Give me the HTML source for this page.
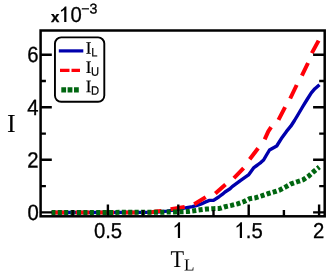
<!DOCTYPE html>
<html>
<head>
<meta charset="utf-8">
<style>
html,body{margin:0;padding:0;background:#fff;}
body{width:332px;height:274px;overflow:hidden;}
svg{display:block;will-change:transform;}
text{text-rendering:geometricPrecision;}
.sans{font-family:"Liberation Sans",sans-serif;}
.serif{font-family:"Liberation Serif",serif;}
</style>
</head>
<body>
<svg width="332" height="274" viewBox="0 0 332 274">
<rect x="0" y="0" width="332" height="274" fill="#fff"/>

<!-- curves -->
<g fill="none" stroke-linejoin="round">
<polyline stroke="#0000ad" stroke-width="3.4" points="51.6,212.5 150,212.4 160,211.8 167.2,211.1 176,209.6 185.5,207.9 192.5,206.6 197.2,205.3 200.7,204.2 205.7,201.9 209.5,200.4 213.5,200.4 218.7,197 222.5,194.2 225,192 230,188.8 232.2,186.6 240.7,180.3 248.5,174.9 253.9,167.6 257.5,165 261,162.3 263.6,160 266.2,155.5 269.5,150 276.7,146 282.1,137.4 286.5,131.4 290.8,126.2 294.5,120.5 298.1,114.5 302.5,107 306.8,100 311.3,92.9 314.9,88.7 319.5,84.7"/>
<path stroke="#ff0008" stroke-width="4" d="M51.6,212.5 L65.4,212.5 M75.6,212.5 L89.4,212.5 M99.6,212.5 L114.1,212.5 M123.6,212.5 L137.4,212.5 M147.6,212.6 L152,212.3 L155,211.6 L158,211.2 L161.4,211 M170.6,209.3 L184.7,206.9 M194.2,204.3 L205.7,197.1 M215.3,193.5 L225.5,184.4 M233.9,178.1 L243.6,168.2 M249.7,159.3 L258.1,148.2 M264.7,139.3 L268.3,131.4 L271.1,127.2 M278.5,119.9 L285.1,107.2 M290.2,98.5 L296.7,85 M301.9,75.7 L308,63 M311.8,53.1 L318.6,40.6"/>
<polyline stroke="#006610" stroke-width="5" stroke-dasharray="4.1,2.305" stroke-dashoffset="0.25" points="51.6,212.5 160,212.3 168,212 175,211.9 181.7,211.7 187.7,211.5 194,210.7 200.4,209.85 206.7,209.05 213.3,208.65 219.7,208.45 225.1,206.75 231.4,205.35 237.5,203.85 243.5,201.75 249.5,198.75 255.8,197.7 261.6,195.85 267.7,193.75 274,191.95 280.1,189.85 285.7,186.85 291.15,183.8 297.2,181.75 303.3,179.65 308.7,176.05 313.5,171.75 318.3,167.85 319.3,167.05"/>
</g>

<!-- axes box -->
<g stroke="#000" stroke-width="2.4" fill="none">
<rect x="40.6" y="30.5" width="284.1" height="185.8" stroke-width="2.5"/>
<path d="M107.9,216.3V204.4 M178.3,216.3V204.4 M248.7,216.3V204.4 M319.1,216.3V204.4 "/>
<path d="M72.7,216.3V210.1 M143.1,216.3V210.1 M213.5,216.3V210.1 M283.9,216.3V210.1 "/>
<path d="M40.6,212.4H51.8 M40.6,159.8H51.8 M40.6,107.3H51.8 M40.6,54.7H51.8 "/>
<path d="M40.6,186.1H45.9 M40.6,133.6H45.9 M40.6,81.0H45.9 "/>
<path d="M324.7,212.4H313.1 M324.7,159.8H313.1 M324.7,107.3H313.1 M324.7,54.7H313.1 "/>
<path d="M324.7,186.1H319.2 M324.7,133.6H319.2 M324.7,81.0H319.2 "/>
</g>

<!-- legend -->
<rect x="54.950" y="37.400" width="49.350" height="64.400" rx="6.2" ry="6.2" fill="#fff" stroke="#000" stroke-width="1.900"/>
<path d="M58.800,50.900H83.300" stroke="#0000ad" stroke-width="3.200" fill="none"/>
<path d="M60,70.400H69.500 M71.500,70.400H80" stroke="#ff0008" stroke-width="3.200" fill="none"/>
<path d="M61.300,89.800H66.100 M67.600,89.800H72.400 M74,89.800H78.800" stroke="#006610" stroke-width="5.200" fill="none"/>
<g fill="#000" stroke="#000" stroke-width="0.2">
<text class="serif" transform="translate(85.8,53.85) scale(1,1.045) rotate(0.05)" font-size="17">I</text>
<text class="sans" transform="translate(91.2,56.5) scale(1,1.1) rotate(0.05)" font-size="11.2">L</text>
<text class="serif" transform="translate(85.8,73.1) scale(1,1.045) rotate(0.05)" font-size="17">I</text>
<text class="sans" transform="translate(91.1,75.8) scale(1,1.1) rotate(0.05)" font-size="11.2">U</text>
<text class="serif" transform="translate(85.8,92.15) scale(1,1.045) rotate(0.05)" font-size="17">I</text>
<text class="sans" transform="translate(91.1,94.8) scale(1,1.1) rotate(0.05)" font-size="11.2">D</text>
</g>

<!-- tick labels -->
<g class="sans" fill="#000" stroke="#000" stroke-width="0.3">
<text transform="translate(38.6,62) scale(1,1.085) rotate(0.05)" text-anchor="end" font-size="20.3">6</text>
<text transform="translate(38.6,115.05) scale(1,1.085) rotate(0.05)" text-anchor="end" font-size="20.3">4</text>
<text transform="translate(38.6,167.6) scale(1,1.085) rotate(0.05)" text-anchor="end" font-size="20.3">2</text>
<text transform="translate(38.75,219.9) scale(1,1.085) rotate(0.05)" text-anchor="end" font-size="20.3">0</text>
<text transform="translate(108,238.0) scale(1,1.06) rotate(0.05)" text-anchor="middle" font-size="20.3">0.5</text>
<path stroke="none" transform="translate(172.56,237.9)" d="M7.5,-15.6 L7.5,0 L5.3,0 L5.3,-12.3 C4.35,-11.4 3.25,-10.7 2.05,-10.2 L2.05,-12 C3.75,-12.8 5.25,-14.1 6.05,-15.6 Z"/>
<path stroke="none" transform="translate(234.49,237.9)" d="M7.5,-15.6 L7.5,0 L5.3,0 L5.3,-12.3 C4.35,-11.4 3.25,-10.7 2.05,-10.2 L2.05,-12 C3.75,-12.8 5.25,-14.1 6.05,-15.6 Z"/>
<text transform="translate(245.78,238.0) scale(1,1.06) rotate(0.05)" text-anchor="start" font-size="20.3">.5</text>
<text transform="translate(318.7,238.0) scale(1,1.06) rotate(0.05)" text-anchor="middle" font-size="20.3">2</text>
<text transform="translate(51,22) rotate(0.05)" font-weight="bold" font-size="15">x</text>
<path stroke="none" transform="translate(58.9,22)" d="M7.5,-15.6 L7.5,0 L5.3,0 L5.3,-12.3 C4.35,-11.4 3.25,-10.7 2.05,-10.2 L2.05,-12 C3.75,-12.8 5.25,-14.1 6.05,-15.6 Z"/>
<text transform="translate(70.49,22.1) scale(1,1.06) rotate(0.05)" text-anchor="start" font-size="20.3">0</text>
<text transform="translate(81.2,13.6) rotate(0.05)" font-size="14.2">−3</text>
</g>

<!-- axis labels -->
<text transform="translate(11.4,132) rotate(0.05)" class="serif" font-size="26" text-anchor="middle" fill="#000">I</text>
<text class="serif" transform="translate(170.5,267) scale(1,1.09) rotate(0.05)" font-size="22.2" fill="#000">T</text>
<text class="serif" transform="translate(184,270.4) scale(1,0.98) rotate(0.05)" font-size="17.2" fill="#000">L</text>
</svg>
</body>
</html>
